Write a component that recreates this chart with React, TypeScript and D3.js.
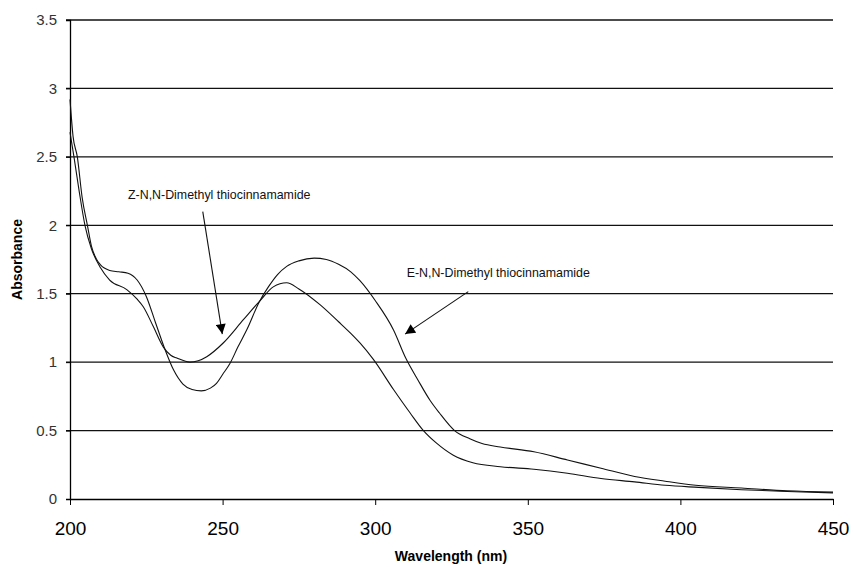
import React, { useEffect, useRef } from "react";
import * as d3 from "d3";

// wavelength (nm) / absorbance pairs
const eWavelength = [200, 201, 202.4, 204, 205.7, 207, 208.5, 210, 213, 216, 219, 222, 225, 228, 231, 234, 237, 240, 243, 246, 248, 250, 252.4, 255, 258, 262, 265, 268, 271, 275, 280, 284, 288, 292, 295, 300, 306, 310, 314, 318, 321, 326, 331, 335, 341, 352, 363, 374, 385, 395, 405, 420, 435, 450];
const eAbsorbance = [2.92, 2.65, 2.5, 2.2, 2.0, 1.85, 1.76, 1.71, 1.67, 1.66, 1.65, 1.6, 1.48, 1.29, 1.1, 0.94, 0.84, 0.8, 0.79, 0.81, 0.845, 0.91, 0.99, 1.11, 1.24, 1.44, 1.55, 1.64, 1.7, 1.74, 1.76, 1.75, 1.715, 1.66, 1.595, 1.45, 1.235, 1.03, 0.87, 0.72, 0.63, 0.5, 0.44, 0.405, 0.38, 0.345, 0.285, 0.225, 0.165, 0.13, 0.1, 0.08, 0.06, 0.05];

const zWavelength = [200, 201.3, 203, 204.9, 207, 210, 213, 218.6, 222, 224, 227.3, 230.6, 233, 235, 239.3, 242, 244.8, 250.2, 256.8, 262.3, 266.6, 271, 275, 281.9, 288, 292, 295, 299.4, 306, 311.4, 315.8, 320, 325.6, 332, 341, 352, 363, 374, 385, 395, 406, 420, 435, 450];
const zAbsorbance = [2.68, 2.5, 2.25, 2.0, 1.83, 1.69, 1.6, 1.53, 1.46, 1.405, 1.26, 1.11, 1.05, 1.03, 1.0, 1.01, 1.04, 1.14, 1.31, 1.45, 1.55, 1.58, 1.535, 1.42, 1.295, 1.21, 1.14, 1.02, 0.8, 0.63, 0.5, 0.41, 0.32, 0.265, 0.236, 0.217, 0.188, 0.15, 0.125, 0.1, 0.085, 0.068, 0.055, 0.045];

const xTicks = [200, 250, 300, 350, 400, 450];
const yTicks = [0, 0.5, 1, 1.5, 2, 2.5, 3, 3.5];

// callouts: label anchor, arrow tail, arrow tip (data units)
const zCallout = { text: "Z-N,N-Dimethyl thiocinnamamide", label: [219, 2.19], from: [243.5, 2.1], to: [249.9, 1.205] };
const eCallout = { text: "E-N,N-Dimethyl thiocinnamamide", label: [310.3, 1.625], from: [330.5, 1.515], to: [309.8, 1.205] };

const FONT = "Arial, 'Liberation Sans', sans-serif";

export default function App() {
	const ref = useRef<SVGSVGElement>(null);

	useEffect(() => {
		const svg = d3.select(ref.current);
		svg.selectAll("*").remove();

		const x = d3.scaleLinear().domain([200, 450]).range([70, 833]);
		const y = d3.scaleLinear().domain([0, 3.5]).range([499, 20]);

		svg.append("defs").append("marker")
			.attr("id", "head")
			.attr("viewBox", "0 0 10 10")
			.attr("refX", 10).attr("refY", 5)
			.attr("markerWidth", 13).attr("markerHeight", 10)
			.attr("markerUnits", "userSpaceOnUse")
			.attr("orient", "auto")
			.append("path").attr("d", "M0,0L10,5L0,10Z").attr("fill", "#000");

		// gridlines
		svg.append("g")
			.selectAll("line")
			.data(yTicks.filter(d => d > 0))
			.enter().append("line")
				.attr("x1", 66).attr("x2", x(450))
				.attr("y1", d => y(d)).attr("y2", d => y(d))
				.attr("stroke", "#111").attr("stroke-width", 1.3);

		// axes
		const yAxis = svg.append("g")
			.attr("transform", "translate(" + x(200) + ",0)")
			.call(d3.axisLeft(y).tickValues(yTicks).tickFormat(d3.format("")).tickSize(4).tickPadding(9));
		yAxis.select(".domain").attr("stroke", "#000").attr("stroke-width", 1.3);
		yAxis.selectAll("text").attr("font-family", FONT).attr("font-size", 15).attr("fill", "#333");

		const xAxis = svg.append("g")
			.attr("transform", "translate(0," + y(0) + ")")
			.call(d3.axisBottom(x).tickValues(xTicks).tickSize(6).tickSizeOuter(0).tickPadding(17));
		xAxis.select(".domain").attr("stroke", "#000").attr("stroke-width", 1.3);
		xAxis.selectAll("text").attr("font-family", FONT).attr("font-size", 19).attr("fill", "#000");

		svg.append("text")
			.attr("transform", "translate(22," + (y(1.75)) + ") rotate(-90)")
			.attr("text-anchor", "middle")
			.attr("font-family", FONT)
			.attr("font-weight", "bold").attr("font-size", 14)
			.text("Absorbance");

		svg.append("text")
			.attr("x", 451).attr("y", 561)
			.attr("text-anchor", "middle")
			.attr("font-family", FONT)
			.attr("font-weight", "bold").attr("font-size", 14)
			.text("Wavelength (nm)");

		// spectra
		const path = d3.line<[number, number]>()
			.x(d => x(d[0]))
			.y(d => y(d[1]))
			.curve(d3.curveMonotoneX);

		[
			{ xs: eWavelength, ys: eAbsorbance },
			{ xs: zWavelength, ys: zAbsorbance },
		].forEach(s => {
			const pts: [number, number][] = s.xs.map((v, i) => [v, s.ys[i]]);
			svg.append("path")
				.datum(pts)
				.attr("d", path)
				.attr("fill", "none")
				.attr("stroke", "#111")
				.attr("stroke-width", 1.1);
		});

		// callouts
		[zCallout, eCallout].forEach(c => {
			svg.append("text")
				.attr("x", x(c.label[0])).attr("y", y(c.label[1]))
				.attr("font-family", FONT)
				.attr("font-size", 12.4)
				.attr("fill", "#111")
				.text(c.text);
			svg.append("line")
				.attr("x1", x(c.from[0])).attr("y1", y(c.from[1]))
				.attr("x2", x(c.to[0])).attr("y2", y(c.to[1]))
				.attr("stroke", "#111").attr("stroke-width", 1.1)
				.attr("marker-end", "url(#head)");
		});
	}, []);

	return (
		<svg ref={ref} width={853} height={567}
			style={{ position: "absolute", left: 0, top: 0, background: "#fff" }} />
	);
}
